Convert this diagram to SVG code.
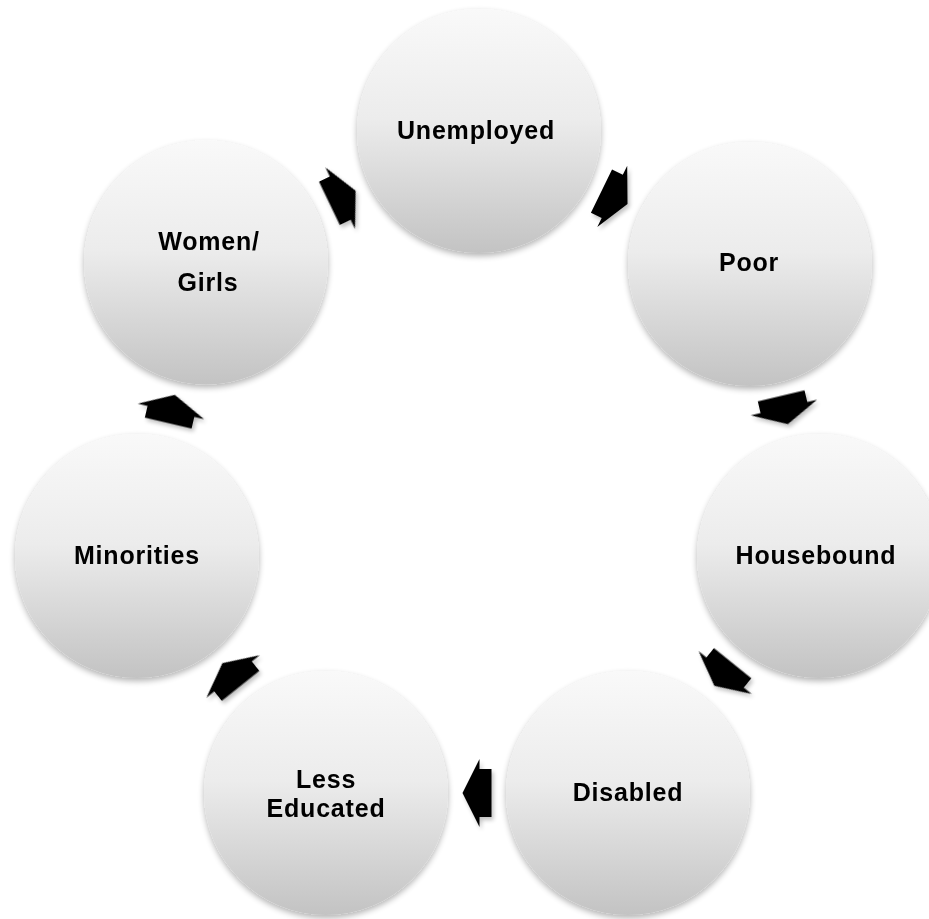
<svg xmlns="http://www.w3.org/2000/svg" xmlns:xlink="http://www.w3.org/1999/xlink" width="929" height="919" viewBox="0 0 929 919">
  <defs>
    <linearGradient id="g" x1="0" y1="0" x2="0" y2="1">
      <stop offset="0" stop-color="#f9f9f9"/>
      <stop offset="0.45" stop-color="#ececec"/>
      <stop offset="1" stop-color="#c3c3c3"/>
    </linearGradient>
    <filter id="sh" x="-20%" y="-20%" width="140%" height="150%">
      <feGaussianBlur in="SourceAlpha" stdDeviation="3"/>
      <feOffset dx="0" dy="3" result="b"/>
      <feComponentTransfer><feFuncA type="linear" slope="0.3"/></feComponentTransfer>
      <feMerge><feMergeNode/><feMergeNode in="SourceGraphic"/></feMerge>
    </filter>
    <filter id="ash" x="-40%" y="-40%" width="180%" height="180%">
      <feGaussianBlur in="SourceAlpha" stdDeviation="2"/>
      <feOffset dx="2" dy="3"/>
      <feComponentTransfer><feFuncA type="linear" slope="0.25"/></feComponentTransfer>
      <feMerge><feMergeNode/><feMergeNode in="SourceGraphic"/></feMerge>
    </filter>
    <polygon id="arr" points="-14.5,-24 -2.5,-24 -2.5,-34 14.5,0 -2.5,34 -2.5,24 -14.5,24" fill="#000"/>
  </defs>
  <style>
    .n { fill: url(#g); filter: url(#sh); }
    .t { font-family: "Liberation Sans", Arial, sans-serif; font-weight: bold; font-size: 25px; letter-spacing: 0.8px; fill: #000; text-anchor: middle; }
  </style>
  <rect width="929" height="919" fill="#fff"/>
  <g id="connectors" filter="url(#ash)">
    <use xlink:href="#arr" transform="translate(614.5,197.5) rotate(26.1)"/>
    <use xlink:href="#arr" transform="translate(784.5,410) rotate(76.7)"/>
    <use xlink:href="#arr" transform="translate(723.5,674.5) rotate(128.9)"/>
    <use xlink:href="#arr" transform="translate(477,793) rotate(180)"/>
    <use xlink:href="#arr" transform="translate(231.5,674.5) rotate(-128.6)"/>
    <use xlink:href="#arr" transform="translate(171.5,409) rotate(-76.8)"/>
    <use xlink:href="#arr" transform="translate(342.5,197) rotate(-25.7)"/>
  </g>
  <g id="unemployed">
    <circle class="n" cx="479" cy="131" r="122"/>
    <text class="t" x="476" y="138.5">Unemployed</text>
  </g>
  <g id="poor">
    <circle class="n" cx="750" cy="264" r="122"/>
    <text class="t" x="749" y="271">Poor</text>
  </g>
  <g id="housebound">
    <circle class="n" cx="819" cy="556" r="122"/>
    <text class="t" x="816" y="564">Housebound</text>
  </g>
  <g id="disabled">
    <circle class="n" cx="628" cy="793" r="122"/>
    <text class="t" x="628" y="801">Disabled</text>
  </g>
  <g id="less-educated">
    <circle class="n" cx="326" cy="793" r="122"/>
    <text class="t" x="326" y="788">Less</text>
    <text class="t" x="326" y="817">Educated</text>
  </g>
  <g id="minorities">
    <circle class="n" cx="137" cy="556" r="122"/>
    <text class="t" x="137" y="564">Minorities</text>
  </g>
  <g id="women-girls">
    <circle class="n" cx="206" cy="262.5" r="122"/>
    <text class="t" x="209" y="250">Women/</text>
    <text class="t" x="208" y="291">Girls</text>
  </g>
</svg>
